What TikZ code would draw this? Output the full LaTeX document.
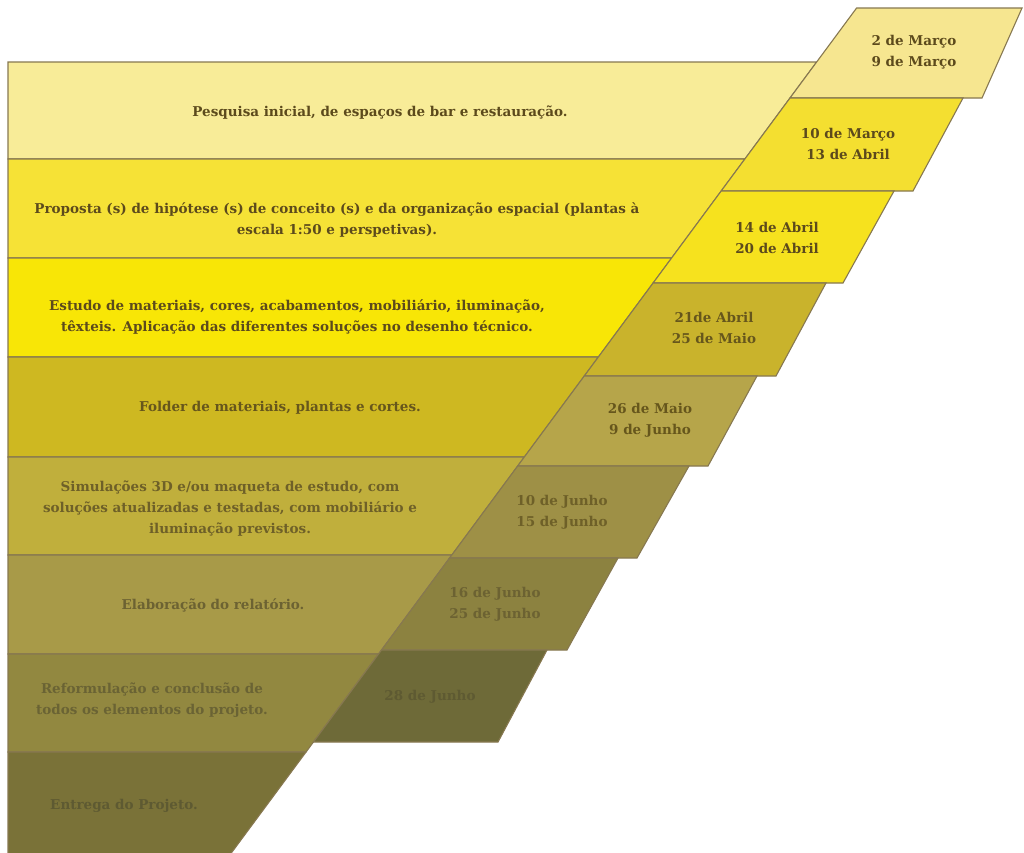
\documentclass[tikz,border=0pt]{standalone}
\usepackage{fontspec}
\setmainfont{DejaVu Serif}
\definecolor{edgec}{HTML}{877850}
\definecolor{bA}{HTML}{F8EC98}
\definecolor{bB}{HTML}{F6E236}
\definecolor{bC}{HTML}{F8E606}
\definecolor{bD}{HTML}{CEB821}
\definecolor{bE}{HTML}{C0AF3C}
\definecolor{bF}{HTML}{A89A48}
\definecolor{bG}{HTML}{928840}
\definecolor{bH}{HTML}{7A7238}
\definecolor{pA}{HTML}{F6E690}
\definecolor{pB}{HTML}{F4DF30}
\definecolor{pC}{HTML}{F6E21E}
\definecolor{pD}{HTML}{C9B32C}
\definecolor{pE}{HTML}{B6A54A}
\definecolor{pF}{HTML}{9E9046}
\definecolor{pG}{HTML}{8C8240}
\definecolor{pH}{HTML}{6E6A38}
\definecolor{tA}{HTML}{5C4A1C}
\definecolor{tB}{HTML}{66561C}
\definecolor{tC}{HTML}{6E6028}
\definecolor{tD}{HTML}{6C6232}
\definecolor{tE}{HTML}{6A6334}
\definecolor{tF}{HTML}{5E5A32}
\begin{document}
\begin{tikzpicture}[x=1pt,y=-1pt,
  declare function={L(\q)=790-0.74*(\q-98);},
  band/.style={draw=edgec, line width=1.1pt, line join=miter},
  lbl/.style={font=\bfseries\fontsize{13.5}{21}\selectfont, align=center, inner sep=0pt}]
\fill[white] (0,0) rectangle (1024,852);
\useasboundingbox (0,0) rectangle (1024,852);
% left bands
\filldraw[band, fill=bA] (8,62) -- ({L(62)},62) -- ({L(159)},159) -- (8,159) -- cycle;
\filldraw[band, fill=bB] (8,159) -- ({L(159)},159) -- ({L(258)},258) -- (8,258) -- cycle;
\filldraw[band, fill=bC] (8,258) -- ({L(258)},258) -- ({L(357)},357) -- (8,357) -- cycle;
\filldraw[band, fill=bD] (8,357) -- ({L(357)},357) -- ({L(457)},457) -- (8,457) -- cycle;
\filldraw[band, fill=bE] (8,457) -- ({L(457)},457) -- ({L(555)},555) -- (8,555) -- cycle;
\filldraw[band, fill=bF] (8,555) -- ({L(555)},555) -- ({L(654)},654) -- (8,654) -- cycle;
\filldraw[band, fill=bG] (8,654) -- ({L(654)},654) -- ({L(752)},752) -- (8,752) -- cycle;
\filldraw[band, fill=bH] (8,752) -- ({L(752)},752) -- ({L(854)},854) -- (8,854) -- cycle;
% date parallelograms
\filldraw[band, fill=pA] ({L(8)},8) -- (1022,8) -- (982,98) -- ({L(98)},98) -- cycle;
\filldraw[band, fill=pB] ({L(98)},98) -- (963,98) -- (913,191) -- ({L(191)},191) -- cycle;
\filldraw[band, fill=pC] ({L(191)},191) -- (894,191) -- (843,283) -- ({L(283)},283) -- cycle;
\filldraw[band, fill=pD] ({L(283)},283) -- (826,283) -- (776,376) -- ({L(376)},376) -- cycle;
\filldraw[band, fill=pE] ({L(376)},376) -- (757,376) -- (708,466) -- ({L(466)},466) -- cycle;
\filldraw[band, fill=pF] ({L(466)},466) -- (689,466) -- (637,558) -- ({L(558)},558) -- cycle;
\filldraw[band, fill=pG] ({L(558)},558) -- (618,558) -- (567,650) -- ({L(650)},650) -- cycle;
\filldraw[band, fill=pH] ({L(650)},650) -- (547,650) -- (498,742) -- ({L(742)},742) -- cycle;
% band texts
\node[lbl, text=tA] (t1) at (380,113) {Pesquisa inicial, de espaços de bar e restauração.};
\node[lbl, text=tA] (t2) at (337,220) {Proposta (s) de hipótese (s) de conceito (s) e da organização espacial (plantas à\\escala 1:50 e perspetivas).};
\node[lbl, text=tA] (t3) at (297,317) {Estudo de materiais, cores, acabamentos, mobiliário, iluminação,\\têxteis. Aplicação das diferentes soluções no desenho técnico.};
\node[lbl, text=tB] (t4) at (280,408) {Folder de materiais, plantas e cortes.};
\node[lbl, text=tC] (t5) at (230,509) {Simulações 3D e/ou maqueta de estudo, com\\soluções atualizadas e testadas, com mobiliário e\\iluminação previstos.};
\node[lbl, text=tD] (t6) at (213,605) {Elaboração do relatório.};
\node[lbl, text=tE] (t7) at (152,700) {Reformulação e conclusão de\\todos os elementos do projeto.};
\node[lbl, text=tF] (t8) at (124,806) {Entrega do Projeto.};
% date texts
\node[lbl, text=tA] (d1) at (914,52) {2 de Março\\9 de Março};
\node[lbl, text=tA] (d2) at (848,144) {10 de Março\\13 de Abril};
\node[lbl, text=tA] (d3) at (777,238) {14 de Abril\\20 de Abril};
\node[lbl, text=tB] (d4) at (714,328) {21de Abril\\25 de Maio};
\node[lbl, text=tB] (d5) at (650,420) {26 de Maio\\9 de Junho};
\node[lbl, text=tC] (d6) at (562,512) {10 de Junho\\15 de Junho};
\node[lbl, text=tD] (d7) at (495,604) {16 de Junho\\25 de Junho};
\node[lbl, text=tF] (d8) at (430,697) {28 de Junho};
\end{tikzpicture}
\end{document}
